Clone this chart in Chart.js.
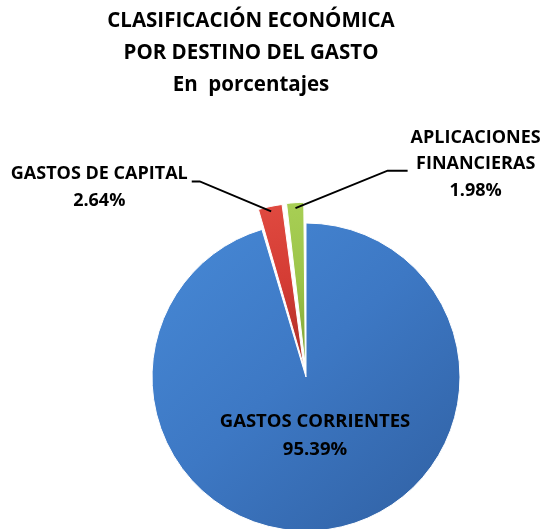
<!DOCTYPE html>
<html>
<head>
<meta charset="utf-8">
<script src="https://cdn.jsdelivr.net/npm/chart.js@4.4.1/dist/chart.umd.min.js"></script>
<style>
  html, body { margin: 0; padding: 0; background: #fff; overflow: hidden; width: 545px; height: 529px; }
  #wrap { position: absolute; left: 0; top: 0; width: 545px; height: 654px; }
</style>
</head>
<body>
<div id="wrap"><canvas id="chart" width="545" height="654"></canvas></div>
<script>
// datos del grafico
const titleLines = ['CLASIFICACIÓN ECONÓMICA', 'POR DESTINO DEL GASTO', 'En  porcentajes'];
const categories = ['GASTOS CORRIENTES', 'GASTOS DE CAPITAL', 'APLICACIONES FINANCIERAS'];
const labelLines = [['GASTOS CORRIENTES'], ['GASTOS DE CAPITAL'], ['APLICACIONES', 'FINANCIERAS']];
const values = [95.39, 2.64, 1.98];

const FONT = '"Open Sans", Lato, sans-serif';
const colorsLight = ['#4789d6', '#e04a40', '#a8cf55'];
const colorsMid = ['#3d78c4', '#d43c34', '#9cc449'];
const colorsDark = ['#3162a5', '#b3322a', '#84a83a'];
const sliceOffsets = [0, 44, 44];

// relleno con degradado (efecto 3D del original)
function sliceColor(ctx) {
    const chart = ctx.chart;
    const area = chart.chartArea;
    const i = ctx.dataIndex;
    if (!area) return colorsMid[i];
    const cx = (area.left + area.right) / 2;
    const cy = (area.top + area.bottom) / 2;
    const r = 154;
    let g;
    if (i === 0) {
        g = chart.ctx.createLinearGradient(cx - r, cy - r, cx + r * 0.8, cy + r);
        g.addColorStop(0, colorsLight[i]);
        g.addColorStop(0.5, colorsMid[i]);
        g.addColorStop(1, colorsDark[i]);
    } else {
        g = chart.ctx.createRadialGradient(cx, cy, 20, cx, cy, r + 30);
        g.addColorStop(0, colorsDark[i]);
        g.addColorStop(0.4, colorsMid[i]);
        g.addColorStop(0.9, colorsLight[i]);
        g.addColorStop(1, colorsMid[i]);
    }
    return g;
}

// titulo dibujado a mano (va algo a la izquierda del centro del lienzo)
const titlePlugin = {
    id: 'tituloManual',
    afterDraw(chart) {
        const ctx = chart.ctx;
        ctx.save();
        ctx.fillStyle = '#000';
        ctx.font = 'bold 20.5px ' + FONT;
        ctx.textAlign = 'center';
        ctx.textBaseline = 'middle';
        titleLines.forEach((t, i) => ctx.fillText(t, 251, 21 + i * 32));
        ctx.restore();
    }
};

// etiquetas con lineas guia
const labelPlugin = {
    id: 'etiquetas',
    afterDatasetsDraw(chart) {
        const meta = chart.getDatasetMeta(0);
        const ctx = chart.ctx;
        ctx.save();
        ctx.font = 'bold 18px ' + FONT;
        ctx.fillStyle = '#000';
        ctx.strokeStyle = '#000';
        ctx.lineWidth = 2;
        ctx.textBaseline = 'middle';
        ctx.textAlign = 'center';
        meta.data.forEach((arc, i) => {
            const txt = labelLines[i].concat(values[i].toFixed(2) + '%');
            const r = arc.outerRadius;
            if (i === 0) {
                ctx.font = 'bold 18.5px ' + FONT;
                txt.forEach((t, k) => ctx.fillText(t, arc.x + 9, arc.y + r * 0.29 + k * 28));
                ctx.font = 'bold 18px ' + FONT;
                return;
            }
            const h = (arc.startAngle + arc.endAngle) / 2;
            const off = sliceOffsets[i];
            const tip = r + off * 0.46 - 5;
            const sx = arc.x + Math.cos(h) * tip;
            const sy = arc.y + Math.sin(h) * tip;
            const left = i === 1;
            const ex = arc.x + (left ? -0.69 : 0.53) * r;
            const ey = arc.y + (left ? -1.27 : -1.34) * r;
            const hx = ex + (left ? -8 : 20);
            ctx.beginPath();
            ctx.moveTo(sx, sy);
            ctx.lineTo(ex, ey);
            ctx.lineTo(hx, ey);
            ctx.stroke();
            const w = Math.max(...txt.map(t => ctx.measureText(t).width));
            const first = ctx.measureText(txt[0]).width;
            if (left) {
                const c = hx - 4 - first / 2;
                txt.forEach((t, k) => ctx.fillText(t, c, ey - 8 + k * 27));
            } else {
                const c = hx + 3 + w / 2;
                txt.forEach((t, k) => ctx.fillText(t, c, ey - 33 + k * 26.5));
            }
        });
        ctx.restore();
    }
};

new Chart(document.getElementById('chart'), {
    type: 'pie',
    data: {
        labels: categories,
        datasets: [{
            data: values,
            backgroundColor: sliceColor,
            borderColor: '#ffffff',
            borderWidth: 1,
            offset: sliceOffsets
        }]
    },
    options: {
        responsive: false,
        animation: false,
        radius: 154,
        layout: { padding: { top: 100, left: 67, right: 0, bottom: 0 } },
        plugins: {
            legend: { display: false },
            tooltip: { enabled: false },
            title: { display: false }
        }
    },
    plugins: [titlePlugin, labelPlugin]
});
</script>
</body>
</html>
